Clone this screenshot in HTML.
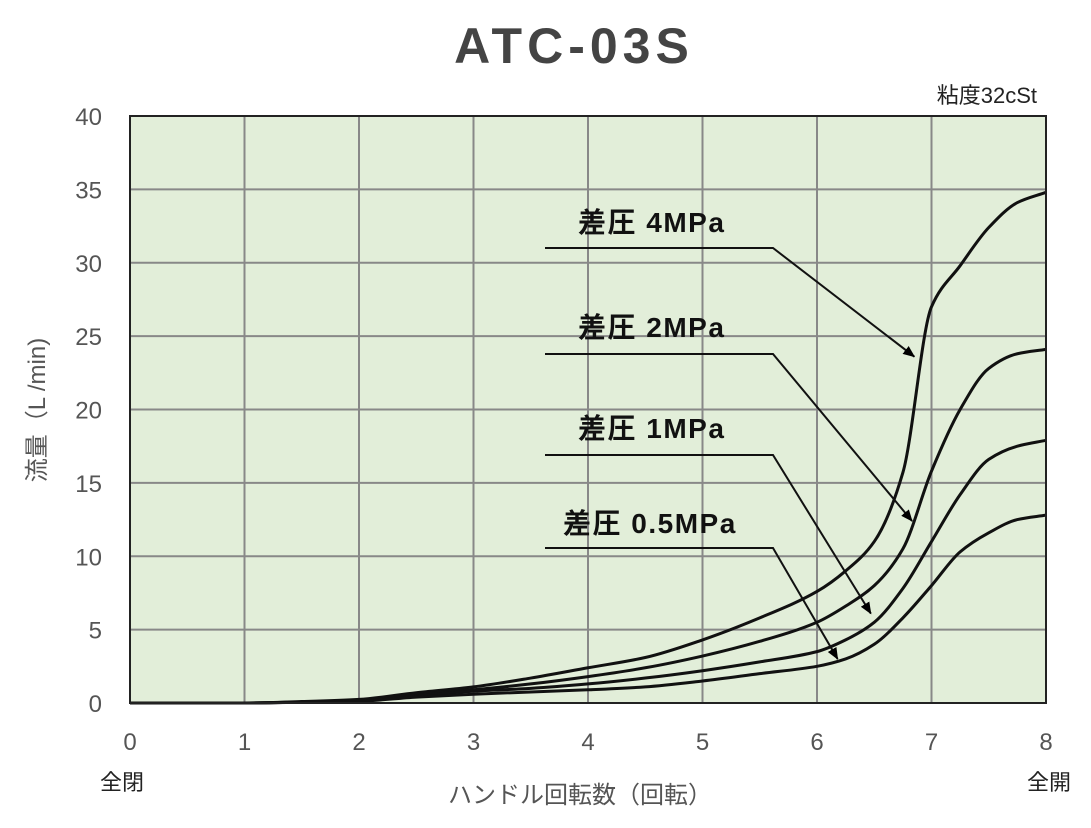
<!DOCTYPE html>
<html><head><meta charset="utf-8">
<style>
body{margin:0;background:#fff;}
svg{display:block;font-family:"Liberation Sans","Noto Sans CJK JP",sans-serif;}
</style></head><body>
<svg id="c" width="1091" height="828" viewBox="0 0 1091 828">
<defs><marker id="ah" markerWidth="12" markerHeight="10" refX="11" refY="5" orient="auto" markerUnits="userSpaceOnUse"><path d="M0,0 L12,5 L0,10 z" fill="#000"/></marker></defs>
<text x="574" y="63" text-anchor="middle" font-size="50" font-weight="bold" letter-spacing="5" fill="#444">ATC-03S</text>
<text x="1037" y="103" text-anchor="end" font-size="22" fill="#222">粘度32cSt</text>
<rect x="130" y="116" width="916" height="587" fill="#e2eed9"/>
<g id="grid"></g>
<g id="ticks"></g>
<g id="curves"></g>
<g id="labels"></g>
<rect x="130" y="116" width="916" height="587" fill="none" stroke="#222" stroke-width="2"/>
<text x="45" y="410" text-anchor="middle" font-size="24" fill="#555" transform="rotate(-90 45 410)">流量（L /min)</text>
<text x="580" y="803" text-anchor="middle" font-size="24" fill="#555">ハンドル回転数（回転）</text>
<text x="122" y="790" text-anchor="middle" font-size="22" fill="#222">全閉</text>
<text x="1049" y="790" text-anchor="middle" font-size="22" fill="#222">全開</text>
</svg>
<script>
const xTicks=[0,1,2,3,4,5,6,7,8];
const yTicks=[0,5,10,15,20,25,30,35,40];
const xs=[0,1,1.5,2,2.5,3,3.5,4,4.5,5,5.5,6,6.25,6.5,6.75,7,7.25,7.5,7.75,8];
const s4=[0,0,0.1,0.25,0.7,1.1,1.7,2.4,3.1,4.3,5.8,7.6,9.0,11.0,15.7,27.0,29.8,32.4,34.1,34.8];
const s2=[0,0,0.08,0.2,0.6,0.9,1.3,1.8,2.4,3.2,4.2,5.5,6.6,8.0,10.5,15.8,20.0,22.8,23.8,24.1];
const s1=[0,0,0.06,0.15,0.5,0.8,1.0,1.3,1.7,2.2,2.8,3.5,4.3,5.5,7.8,11.0,14.2,16.6,17.5,17.9];
const s05=[0,0,0.05,0.12,0.4,0.6,0.75,0.9,1.1,1.5,2.0,2.5,3.0,4.0,5.8,8.0,10.3,11.6,12.5,12.8];
const series=[{name:'4MPa',v:s4},{name:'2MPa',v:s2},{name:'1MPa',v:s1},{name:'0.5MPa',v:s05}];
const labelY=[222,327,428,523];
const arrowTarget=[[6.85,23.6],[6.83,12.4],[6.47,6.1],[6.18,3.0]];
const X=v=>130+v*114.5, Y=v=>703-v*14.675;
const NS='http://www.w3.org/2000/svg';
function mk(t,a,p){const e=document.createElementNS(NS,t);for(const k in a)e.setAttribute(k,a[k]);p.appendChild(e);return e;}
const g=document.getElementById('grid'),tk=document.getElementById('ticks'),cv=document.getElementById('curves'),lb=document.getElementById('labels');
xTicks.forEach(t=>{const l=mk('line',{x1:X(t),x2:X(t),y1:116,y2:703,stroke:'#888','stroke-width':2},g);


const tx=mk('text',{x:X(t),y:750,'text-anchor':'middle','font-size':24,fill:'#555'},tk);tx.textContent=t;

});
yTicks.forEach(t=>{const l=mk('line',{x1:130,x2:1046,y1:Y(t),y2:Y(t),stroke:'#888','stroke-width':2},g);


const tx=mk('text',{x:102,y:Y(t)+9,'text-anchor':'end','font-size':24,fill:'#555'},tk);tx.textContent=t;

});
function path(v){
  const n=xs.length,px=xs.map(X),py=v.map(Y);
  const d=[],m=[];
  for(let i=0;i<n-1;i++)d.push((py[i+1]-py[i])/(px[i+1]-px[i]));
  m[0]=d[0];m[n-1]=d[n-2];
  for(let i=1;i<n-1;i++){ if(d[i-1]*d[i]<=0)m[i]=0; else {const w1=2*(px[i+1]-px[i])+(px[i]-px[i-1]),w2=(px[i+1]-px[i])+2*(px[i]-px[i-1]);m[i]=(w1+w2)/(w1/d[i-1]+w2/d[i]);} }
  let s='M'+px[0]+','+py[0];
  for(let i=0;i<n-1;i++){const h=(px[i+1]-px[i])/3;
    s+=' C'+(px[i]+h)+','+(py[i]+m[i]*h)+' '+(px[i+1]-h)+','+(py[i+1]-m[i+1]*h)+' '+px[i+1]+','+py[i+1];}
  return s;}
series.forEach((s,i)=>{const c=mk('path',{d:path(s.v),fill:'none',stroke:'#111','stroke-width':3},cv);


const ly=labelY[i];
const t=mk('text',{x:i==3?563:578,y:ly+10,'font-size':28,'font-weight':'bold','letter-spacing':1.5,fill:'#111'},lb);t.textContent='差圧 '+s.name;


const ay=ly+(i==0?26:i==3?25:27);
const ar=mk('polyline',{points:`545,${ay} 773,${ay} ${X(arrowTarget[i][0])},${Y(arrowTarget[i][1])}`,fill:'none',stroke:'#111','stroke-width':2,'marker-end':'url(#ah)'},lb);

});
</script>
</body></html>
